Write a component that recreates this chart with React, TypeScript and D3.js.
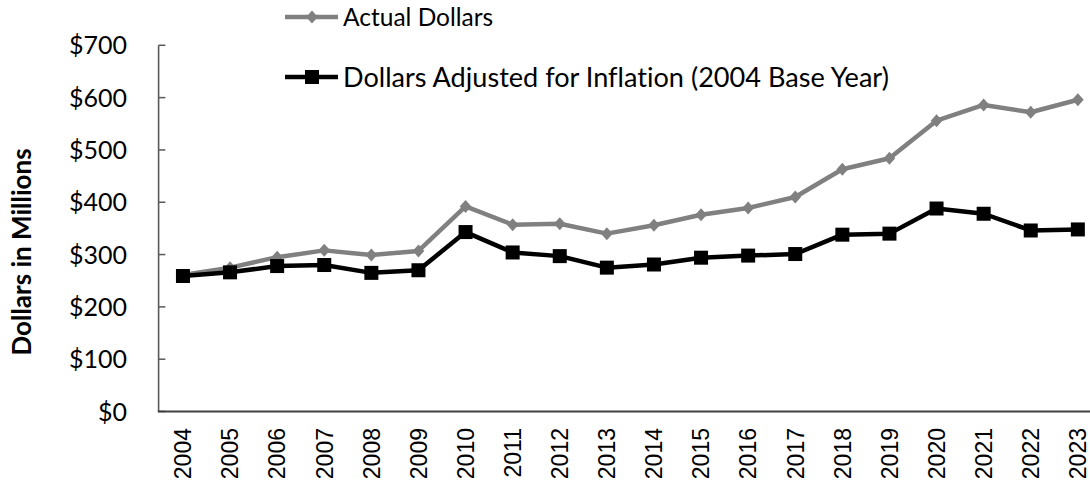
import React from "react";
import * as d3 from "d3";

const years = ["2004","2005","2006","2007","2008","2009","2010","2011","2012","2013","2014","2015","2016","2017","2018","2019","2020","2021","2022","2023"];
const actualDollars = [261,275,295,308,299,307,392,357,359,340,356,376,389,410,463,484,556,586,572,596];
const adjustedDollars = [259,266,278,280,265,270,343,304,297,275,281,294,298,301,338,340,388,378,346,348];
const yTicks = [0,100,200,300,400,500,600,700];
const seriesNames = ["Actual Dollars", "Dollars Adjusted for Inflation (2004 Base Year)"];

const W = 1090, H = 484;
const plotLeft = 159.4, plotRight = 1101.4, plotTop = 45.3, plotBottom = 411.5;

export default function App() {
  const x = d3.scaleBand<string>().domain(years).range([plotLeft, plotRight]);
  const cx = (d: string) => (x(d) as number) + x.bandwidth() / 2;
  const y = d3.scaleLinear().domain([0, 700]).range([plotBottom, plotTop]);
  const line = d3.line<number>().x((_, i) => cx(years[i])).y(v => y(v));
  const lato = "Lato, 'Open Sans', sans-serif";
  const diamond = (px: number, py: number, r = 6.5) =>
    `M${px},${py - r}L${px + r * 0.9},${py}L${px},${py + r}L${px - r * 0.9},${py}Z`;
  const sq = 7;
  const noLig = { fontVariantLigatures: "none" } as React.CSSProperties;
  return (
    <svg width={W} height={H} style={{ position: "absolute", left: 0, top: 0, background: "#fff" }}>
      {/* axes */}
      <line x1={plotLeft - 0.8} x2={plotLeft - 0.8} y1={plotTop} y2={plotBottom} stroke="#595959" strokeWidth={1.6} />
      {yTicks.map(t => (
        <g key={t}>
          <line x1={plotLeft - 0.8} x2={plotLeft + 6} y1={y(t)} y2={y(t)} stroke="#595959" strokeWidth={1.5} />
          <text x={127} y={y(t)} dy="0.36em" textAnchor="end" fontFamily={lato} fontSize={25} fill="#000">
            {d3.format("$,")(t)}
          </text>
        </g>
      ))}
      <line x1={plotLeft - 1.6} x2={W} y1={plotBottom} y2={plotBottom} stroke="#404040" strokeWidth={1.8} />
      {years.map(yr => (
        <text key={yr} transform={`translate(${cx(yr)},428) rotate(-90)`} dy="0.36em" textAnchor="end"
          fontFamily="'Liberation Sans', Arial, sans-serif" fontSize={23} fill="#000">{yr}</text>
      ))}
      <text transform={`translate(22,252) rotate(-90)`} dy="0.36em" textAnchor="middle" fontFamily={lato}
        fontWeight="bold" fontSize={26} fill="#000">Dollars in Millions</text>

      {/* series */}
      <path d={line(actualDollars) || ""} fill="none" stroke="#808080" strokeWidth={4.5} strokeLinejoin="round" />
      {actualDollars.map((v, i) => (
        <path key={"a" + i} d={diamond(cx(years[i]), y(v))} fill="#808080" />
      ))}
      <path d={line(adjustedDollars) || ""} fill="none" stroke="#000" strokeWidth={4.5} strokeLinejoin="round" />
      {adjustedDollars.map((v, i) => (
        <rect key={"b" + i} x={cx(years[i]) - sq} y={y(v) - sq} width={sq * 2} height={sq * 2} fill="#000" />
      ))}

      {/* legend */}
      <line x1={285} x2={338} y1={17} y2={17} stroke="#808080" strokeWidth={4.5} />
      <path d={diamond(312, 17)} fill="#808080" />
      <text x={343} y={17} dy="0.36em" fontFamily={lato} fontSize={24.5} fill="#000" style={noLig}>{seriesNames[0]}</text>
      <line x1={285} x2={338} y1={77} y2={77} stroke="#000" strokeWidth={4.5} />
      <rect x={312 - sq} y={77 - sq} width={sq * 2} height={sq * 2} fill="#000" />
      <text x={343} y={77} dy="0.36em" fontFamily={lato} fontSize={27.1} fill="#000" style={noLig}>{seriesNames[1]}</text>
    </svg>
  );
}
